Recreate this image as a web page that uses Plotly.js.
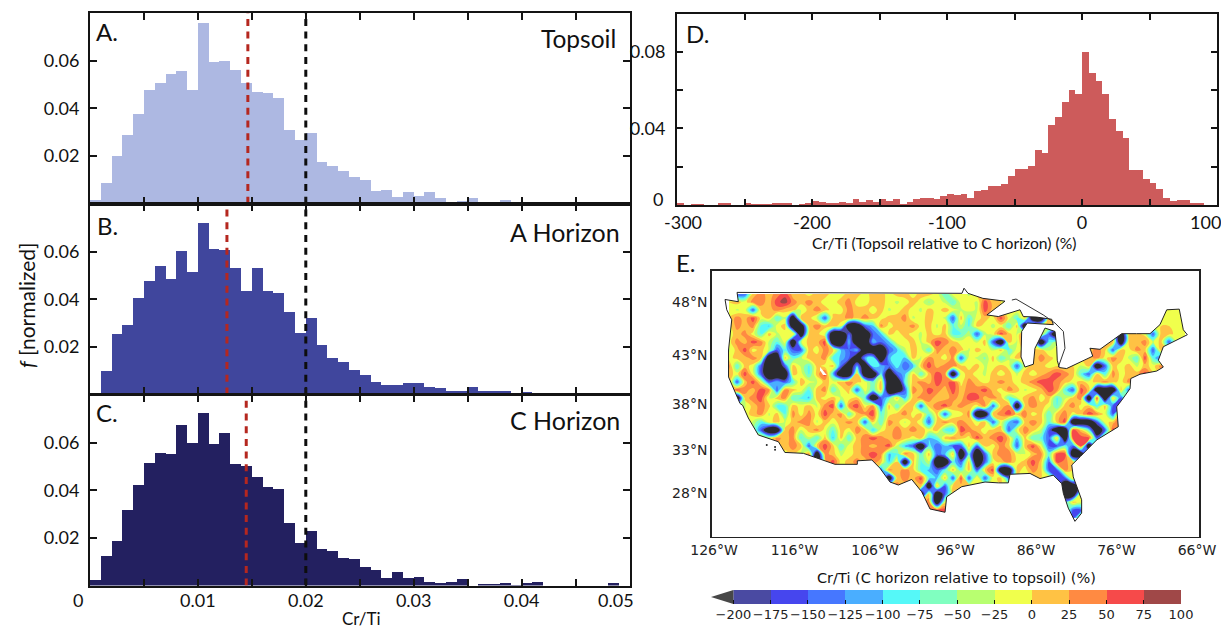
<!DOCTYPE html>
<html><head><meta charset="utf-8">
<script src="https://cdn.plot.ly/plotly-3.0.1.min.js"></script>
<style>html,body{margin:0;padding:0;background:#fff}</style>
</head><body><div id="chart" style="width:1221px;height:629px"></div>
<script>
// ---------- data ----------
const topsoilValues=[.0014,.0087,.020,.0288,.0376,.0477,.0506,.0544,.0557,.0477,.0758,.0594,.0599,.0561,.0506,.0469,.0464,.0443,.0309,.0267,.0297,.0175,.0158,.0137,.0112,.0099,.0055,.0057,.0028,.0049,.0032,.0049,.0024,.0007,.0011,.0024,.0007,.0007,.0015,.0003,.0007,.0007,.0002,.0002,.0002,.0001,.0001,.0001,.0007,0];
const aHorizonValues=[.0007,.0097,.0252,.029,.0407,.0478,.0541,.0483,.0604,.0516,.0722,.0613,.0608,.0533,.0436,.0533,.0436,.0428,.0348,.0256,.0319,.0206,.0155,.0138,.0101,.008,.0052,.0039,.0039,.0048,.0048,.0031,.0027,.0014,.0014,.0031,.0014,.0014,.0014,.0006,.001,0,0,0,0,0,0,0,0,0];
const cHorizonValues=[.0025,.0126,.0189,.0315,.042,.0512,.0558,.055,.0675,.0596,.0722,.0592,.0638,.0508,.05,.0457,.0415,.0403,.0264,.018,.0227,.0155,.0147,.0117,.0113,.008,.0067,.0032,.0057,.0032,.0036,.0015,.0011,.0015,.0028,0,.0007,.0007,.0011,.0004,.0011,.0015,0,0,0,0,0,0,.0011,0];
const relativeValues=[.0009,.0002,.0003,.0003,.0002,.0002,.0009,.0009,.0002,.0002,.0009,.0003,.0006,.0003,.0009,.0009,.0009,.0002,.0006,.0011,.0021,.0017,.0009,.0009,.0014,.0009,.0032,.0016,.0026,.0016,.0032,.0021,.0032,.0007,.0014,.0032,.0037,.0037,.0031,.0047,.0057,.0052,.0057,.0034,.0073,.0080,.0099,.0099,.0110,.0152,.0187,.0187,.0204,.0287,.0272,.0417,.0459,.0538,.0600,.0582,.0800,.0689,.0647,.0579,.0449,.0386,.0351,.0183,.0183,.0136,.0115,.0083,.0037,.0021,.0025,.0025,.0009,.0009,.0002,0];
const medians={A:.01463,B:.01269,C:.01448};
const referenceLine=.02;

const levelEdges=[-200,-175,-150,-125,-100,-75,-50,-25,0,25,50,75,100];
const levelColors=['#2a2a2e','#4a4aa2','#4646ee','#4677ff','#4aaeff','#55f8f8','#80ffc0','#b8ff70','#f0ff4c','#ffc244','#ff8a42','#f64a4a','#a04848'];
const levelLabels=['\u2212200','\u2212175','\u2212150','\u2212125','\u2212100','\u221275','\u221250','\u221225','0','25','50','75','100'];
const classValues={K:-300,B:-150,A:-105,C:-80,M:-55,G:-30,Y:-12,O:12,P:37,R:65,D:90,'.':0};

// map classes, west half and east half, north to south
const mapRowsWest=[
".BBOPOPROOYOOYYOOYOOYOOYOOYCY",
".OYPPORDPOPOYYOPYYOOYGYOYMYGC",
".GYBOOPOOGOPOYYPOOYOGYOYGOYOY",
".PORYOCGKOOGBOOPOPOYOOPGYOYGB",
"YPOPCAYOKKOPOOYKKBAPYOOPYOGOC",
"YOPYCOGYOKOOGKKBKKBAOYOYGOYOC",
"YPORPGCYKGOORKKAKKABAYYOGORPO",
"GORYOGBCBBOYPOABAKKKBAGOYCPOP",
"YOOPOKKOCGOOPCABKACKACAOGPOYP",
"PCOYBKKBOGCOYOBKAKCABCBAOROPP",
"OYRYBKKKOYCORAKKOKKCKBAOCORPK",
"PBORYBABCOYGOYOPOYCOKKCOPORPR",
"ORPORPBPOYCOPCYOBYCOKKBPORPOR",
"YKOPRGOPCCAOYOGYOCKBCOAOPPOOP",
".YGOPOCCOYOGPRBPRYPBOCOOBOPRO",
"..YOPGOCPYPYROPCOPRCYOPYOCOBY",
"..OGCYOGOPPGOYOPOBOCPOGOYBOPO",
"...GBKKOPGOPYCOYPOAYOPOPOYOCA",
"....OGPOPCGCOAOCOPRPOPOYOACOP",
".....YOOPOBOROCYOPOPRGABKCBAB",
"......PYOGPKPOGYOPRPACPOCOBAO",
"...........KORYOPOPOAOKOCGKKC",
"...................BPOPOCABCO",
"....................KOPORCAOB",
".....................POOOKOBO",
".......................PKOKB.",
"........................OPKY.",
".........................PRR.",
"............................."];
const mapRowsEast=[
"YGO..........................",
"YYGRO........................",
"GYGROY.......................",
"OCYOYRYCOKK..................",
"GCOYGYCOKYGO.................",
"CGBGYROGR.OBK......OKOOYBOOY.",
"YYGOBKOGR.KCG.....OOKOOPGOB..",
"OGOYGOCYO.OGYO..OPOBOYPOBO...",
"BYGMOCGOY.POYGPOOPYPOGCRCB...",
"OYOGYOYBYOOY...GOKBOYOGOYPGB.",
"YOYGOYOGOYOPRPOCBOCPYOOR.....",
"YPOYOPOYOPRRPOYOYOPOYP.......",
"OPPROYPOGYORPCBROKKKOB.......",
"ORROPOCGOPYOCGOPKRKOB........",
"POYPBOPKOPOYCOPYOCOBB........",
"YPKKOPROPYOCOPYORPYBR........",
"POYOBYABOPOCORKKKBYOR........",
"RPOYOOBYPOGBKKROCKBR.........",
"OYROPROAOCCBOKRRRB...........",
"BOBOYPOBORYBBCBRK............",
"KCKBOPPYGOPCRRKK.............",
"BOKBYOPYOROBRP...............",
"COBORKKOYPOBBP...............",
"RBOBYOB.....BBOB.............",
"O...........BKKB.............",
"............CKKO.............",
".............AOY.............",
"..............BB.............",
"..............B.............."];

// outline of the country (lon, lat), clockwise from the north-west corner
const coastLon=[-123.14,-95.19,-94.94,-94.45,-92.6,-89.85,-92.1,-90.68,-87.99,-87.58,-85.92,-84.05,-83.85,-85.5,-87.08,-87.78,-87.86,-87.37,-86.33,-86.13,-85.5,-84.88,-83.64,-83.43,-83.36,-83.11,-82.2,-79.7,-78.95,-79.3,-78.05,-76.4,-75.35,-73.5,-71.84,-70.6,-69.76,-68.2,-67.7,-67.2,-68.95,-70.18,-70.8,-70.18,-71.0,-73.08,-74.23,-74.32,-75.35,-75.98,-75.78,-76.8,-78.46,-80.5,-81.56,-81.37,-80.33,-80.33,-81.16,-81.99,-82.6,-82.8,-83.85,-85.5,-86.75,-89.23,-89.44,-90.68,-92.33,-95.23,-97.1,-97.3,-99.17,-100.2,-101.44,-103.1,-104.14,-105.38,-106.4,-108.2,-108.2,-110.97,-114.9,-117.2,-118.0,-120.5,-121.74,-122.44,-122.77,-124.2,-124.2,-123.8,-124.42,-124.63,-122.98,-123.14];
const coastLat=[48.83,48.75,49.2,48.75,48.3,48.05,46.8,46.65,47.27,46.65,46.6,46.4,45.9,45.98,46.05,45.26,42.8,41.8,42.08,43.65,44.63,45.58,45.26,43.8,42.48,41.75,41.65,42.58,42.88,43.65,43.55,44.47,45.05,45.05,45.05,45.9,47.27,47.33,45.42,44.95,44.3,43.8,42.48,41.8,41.4,41.08,40.64,39.6,38.4,37.7,35.55,35.0,34.1,32.23,31.27,29.9,27.2,25.6,24.6,26.2,27.97,29.1,30.1,29.7,30.3,30.2,29.2,29.2,29.3,28.75,27.55,25.7,26.1,28.15,29.6,28.95,29.3,30.9,31.85,31.75,31.35,31.35,32.6,32.7,33.9,34.65,36.5,37.85,38.05,40.8,43.48,46.35,47.27,48.2,48.0,48.83];
const borderLon=[-89.0,-88.48,-85.1,-83.64,-82.6,-82.4,-83.23];
const borderLat=[48.15,48.24,46.8,46.05,45.26,43.65,41.8];
const saltLakeLon=[-112.83,-112.0,-112.46,-112.83,-112.83];
const saltLakeLat=[41.8,41.0,41.0,41.48,41.8];
const islandLon=[-119.45,-118.42,-118.42];
const islandLat=[33.55,33.3,33.0];
const lonTicks=[-126,-116,-106,-96,-86,-76,-66];
const latTicks=[48,43,38,33,28];

// ---------- geometry and styling ----------
const W=1221,H=629;
const ink='#141414', lato='Lato,"Noto Sans",sans-serif', deja='"DejaVu Sans",sans-serif';
const domX=(a,b)=>[a/W,b/W], domY=(top,bot)=>[1-bot/H,1-top/H];
const merc=lat=>Math.log(Math.tan(Math.PI/4+lat*Math.PI/360));

const histTicks=[];for(let i=0;i<=10;i++)histTicks.push(+(i*.005).toFixed(3));
const histText=histTicks.map(v=>[.01,.02,.03,.04].includes(v)?v.toFixed(2):'');
function histX(anchor,labels){return {anchor,domain:domX(90,629.5),range:[0,.05],tickmode:'array',tickvals:histTicks,ticktext:labels?histText:histTicks.map(()=>''),ticks:'inside',ticklen:7,tickwidth:2,tickcolor:ink,mirror:'allticks',showline:true,linewidth:2,linecolor:ink,showgrid:false,zeroline:false,tickangle:0,tickfont:{family:lato,size:18,color:'#111'},ticklabelstandoff:-2};}
function histY(anchor,top,bot){return {anchor,domain:domY(top,bot),range:[0,.08],tickmode:'array',tickvals:[.02,.04,.06],ticktext:['0.02','0.04','0.06'],ticks:'inside',ticklen:7,tickwidth:2,tickcolor:ink,mirror:'allticks',showline:true,linewidth:2,linecolor:ink,showgrid:false,zeroline:false,tickfont:{family:lato,size:18,color:'#111'},ticklabelstandoff:5};}

function hist(y,color,n){return {type:'bar',x0:.0005,dx:.001,y,width:.001,marker:{color,line:{width:0}},xaxis:'x'+n,yaxis:'y'+n,hoverinfo:'skip'};}
function vline(v,color,n){return {type:'scatter',mode:'lines',x:[v,v],y:[0,.08],line:{color,width:3,dash:'7px,5.7px'},xaxis:'x'+n,yaxis:'y'+n,hoverinfo:'skip'};}

// map grid from the class rows
const mapZ=mapRowsWest.map((r,i)=>(r.padEnd(29,'.').slice(0,29)+mapRowsEast[i].padEnd(29,'.').slice(0,29)).split('').map(c=>classValues[c]));

const zmin=-225,zmax=100,nLev=levelColors.length;
const scale=[];levelColors.forEach((c,i)=>{scale.push([i/nLev,c]);scale.push([(i+1)/nLev,c]);});

const mapXR=[-126.29,-65.75], mapYR=[.4072,1.0301];
const coastY=coastLat.map(merc);
const maskX=[mapXR[0],mapXR[0],mapXR[1],mapXR[1],mapXR[0],null,...coastLon];
const maskY=[mapYR[1],mapYR[0],mapYR[0],mapYR[1],mapYR[1],null,...coastY];

const traces=[
 hist(topsoilValues,'#adb8e2',1),vline(medians.A,'#b5271f',1),vline(referenceLine,'#0d0d0d',1),
 hist(aHorizonValues,'#40469d',2),vline(medians.B,'#b5271f',2),vline(referenceLine,'#0d0d0d',2),
 hist(cHorizonValues,'#232060',3),vline(medians.C,'#b5271f',3),vline(referenceLine,'#0d0d0d',3),
 {type:'bar',x0:-297.5,dx:5,y:relativeValues,width:5,marker:{color:'#cd5b5b',line:{width:0}},xaxis:'x4',yaxis:'y4',hoverinfo:'skip'},
 {type:'contour',z:mapZ,x0:-124.14,dx:.9938,y0:.9755,dy:-.01874,zmin,zmax,colorscale:scale,autocontour:false,contours:{start:-200,end:75,size:25,coloring:'fill',showlines:false},line:{width:0,smoothing:1.2},showscale:false,xaxis:'x5',yaxis:'y5',hoverinfo:'skip'},
 {type:'scatter',mode:'none',x:maskX,y:maskY,fill:'toself',fillcolor:'#fff',xaxis:'x5',yaxis:'y5',hoverinfo:'skip'},
 {type:'scatter',mode:'lines',x:coastLon,y:coastY,line:{color:'#222',width:1},xaxis:'x5',yaxis:'y5',hoverinfo:'skip'},
 {type:'scatter',mode:'lines',x:borderLon,y:borderLat.map(merc),line:{color:'#333',width:1},xaxis:'x5',yaxis:'y5',hoverinfo:'skip'},
 {type:'scatter',mode:'none',x:saltLakeLon,y:saltLakeLat.map(merc),fill:'toself',fillcolor:'#fff',xaxis:'x5',yaxis:'y5',hoverinfo:'skip'},
 {type:'scatter',mode:'markers',x:islandLon,y:islandLat.map(merc),marker:{color:'#222',size:2},xaxis:'x5',yaxis:'y5',hoverinfo:'skip'},
 {type:'heatmap',z:[levelEdges.slice(0,-1).map(v=>v+12.5)],x:levelEdges,y:[0,1],zmin,zmax,colorscale:scale,showscale:false,xaxis:'x6',yaxis:'y6',hoverinfo:'skip'},
 {type:'scatter',mode:'none',x:[-200,-215,-200,-200],y:[0,.5,1,0],fill:'toself',fillcolor:'#474747',xaxis:'x6',yaxis:'y6',hoverinfo:'skip'}
];

function note(text,px,py,size,family,anchor,extra){return Object.assign({xref:'paper',yref:'paper',x:px/W,y:1-py/H,text,showarrow:false,xanchor:anchor||'center',yanchor:'middle',font:{family,size,color:'#111'}},extra||{});}

const dXTicks=[-300,-250,-200,-150,-100,-50,0,50,100];
const layout={
 width:W,height:H,margin:{l:0,r:0,t:0,b:0},paper_bgcolor:'#fff',plot_bgcolor:'#fff',showlegend:false,bargap:0,barmode:'overlay',
 xaxis:histX('y',false),yaxis:histY('x',13,203.7),
 xaxis2:histX('y2',false),yaxis2:histY('x2',204,394.4),
 xaxis3:histX('y3',true),yaxis3:histY('x3',394.8,585.6),
 xaxis4:{anchor:'y4',domain:domX(677,1217),range:[-300,100],tickmode:'array',tickvals:dXTicks,ticktext:dXTicks.map(v=>[-200,-100,0].includes(v)?String(v):''),ticks:'inside',ticklen:6,tickwidth:2,tickcolor:ink,mirror:'allticks',showline:true,linewidth:2,linecolor:ink,showgrid:false,zeroline:false,tickangle:0,tickfont:{family:lato,size:18,color:'#111'},ticklabelstandoff:0},
 yaxis4:{anchor:'x4',domain:domY(13.5,205),range:[0,.1],tickmode:'array',tickvals:[.02,.04,.06,.08],ticktext:['','0.04','','0.08'],ticks:'inside',ticklen:6,tickwidth:2,tickcolor:ink,mirror:'allticks',showline:true,linewidth:2,linecolor:ink,showgrid:false,zeroline:false,tickfont:{family:lato,size:18,color:'#111'},ticklabelstandoff:6},
 xaxis5:{anchor:'y5',domain:domX(711.7,1199),range:mapXR,tickmode:'array',tickvals:lonTicks,ticktext:lonTicks.map(v=>Math.abs(v)+'°W'),ticks:'',showline:true,linewidth:1.5,linecolor:'#222',mirror:true,showgrid:false,zeroline:false,tickangle:0,tickfont:{family:deja,size:14,color:'#222'}},
 yaxis5:{anchor:'x5',domain:domY(270.7,536.7),range:mapYR,tickmode:'array',tickvals:latTicks.map(merc),ticktext:latTicks.map(v=>v+'°N'),ticks:'',showline:true,linewidth:1.5,linecolor:'#222',mirror:true,showgrid:false,zeroline:false,tickfont:{family:deja,size:14,color:'#222'}},
 xaxis6:{anchor:'y6',domain:domX(711,1181),range:[-215,100],tickmode:'array',tickvals:levelEdges,ticktext:levelLabels,ticks:'inside',ticklen:4,tickwidth:1,tickcolor:'#111',showline:false,showgrid:false,zeroline:false,tickangle:0,tickfont:{family:deja,size:13,color:'#222'},ticklabelstandoff:1},
 yaxis6:{anchor:'x6',domain:domY(590,604),range:[0,1],showticklabels:false,ticks:'',showline:false,showgrid:false,zeroline:false},
 annotations:[
  note('A.',107,32,24,lato),note('B.',107,225,24,lato),note('C.',107,412,24,lato),
  note('D.',697,33,24,lato),note('E.',686,262,24,lato),
  note('Topsoil',618,38,24.5,lato,'right'),note('A Horizon',622,232,25,lato,'right'),note('C Horizon',622,420,25,lato,'right'),
  note('<i>f</i> [normalized]',26,305,21,lato,'center',{textangle:-90}),
  note('0',78,600,18,lato),note('0.05',616,600,18,lato),note('Cr/Ti',361,618,17,lato),
  note('0',658,199,18,lato),note('-300',683,222,18,lato),note('100',1205,222,18,lato),
  note('Cr/Ti (Topsoil relative to C horizon) (%)',944,243,15.7,lato),
  note('Cr/Ti (C horizon relative to topsoil) (%)',956,578,14.5,deja)
 ]
};
Plotly.newPlot('chart',traces,layout,{staticPlot:true,displayModeBar:false});
</script></body></html>
